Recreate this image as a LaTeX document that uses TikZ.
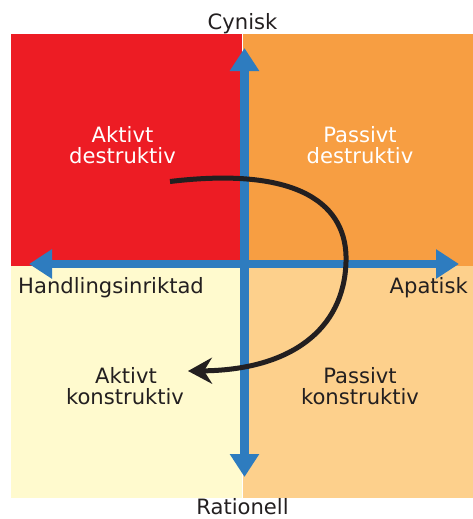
\documentclass[tikz,border=0pt]{standalone}
\usepackage{fontspec}
\setmainfont{DejaVu Sans}
\usetikzlibrary{arrows.meta}
\definecolor{qred}{RGB}{237,28,36}
\definecolor{qorange}{RGB}{247,158,66}
\definecolor{qpale}{RGB}{255,250,206}
\definecolor{qpeach}{RGB}{253,208,140}
\definecolor{axisblue}{RGB}{46,124,191}
\definecolor{ink}{RGB}{35,31,32}
\tikzset{
  quad/.style={draw=none, inner sep=0pt, anchor=north west,
    minimum width=231pt, minimum height=232pt},
  lbl/.style={anchor=base, inner sep=0pt, font=\fontsize{21.1pt}{21pt}\selectfont},
  axis/.style={draw=axisblue, line width=8.5pt,
    {Triangle[length=23pt,width=28pt]}-{Triangle[length=23pt,width=28pt]}},
  flow/.style={draw=ink, line width=5pt,
    -{Stealth[length=24pt,width=26pt,inset=8pt]}}
}
\begin{document}
\begin{tikzpicture}[x=1pt,y=-1pt]
  \useasboundingbox (0,0) rectangle (473,519);
  % four quadrants
  \node[quad, fill=qred]    (ad) at (11,34)   {};
  \node[quad, fill=qorange, minimum width=230pt] (pd) at (243,34)  {};
  \node[quad, fill=qpale, minimum height=232pt]   (ak) at (11,266)  {};
  \node[quad, fill=qpeach, minimum width=230pt, minimum height=232pt] (pk) at (243,266) {};

  % axes
  \coordinate (top)    at (244.5,48);
  \coordinate (bottom) at (244.5,477);
  \coordinate (left)   at (29,264);
  \coordinate (right)  at (459,264);
  \draw[axis] (bottom) -- (top);
  \draw[axis] (left) -- (right);

  % axis labels
  \node[lbl, text=ink] (cyn) at (242.5,30) {Cynisk};
  \node[lbl, text=ink] (rat) at (242.5,514) {Rationell};
  \node[lbl, text=ink, anchor=base west] (han) at (18,293) {Handlingsinriktad};
  \node[lbl, text=ink, anchor=base east] (apa) at (468,293) {Apatisk};

  % quadrant labels
  \node[lbl, text=white] (ad1) at (122.5,142) {Aktivt};
  \node[lbl, text=white] (ad2) at (122.5,163) {destruktiv};
  \node[lbl, text=white] (pd1) at (360,142) {Passivt};
  \node[lbl, text=white] (pd2) at (360,163) {destruktiv};
  \node[lbl, text=ink] (ak1) at (126,383) {Aktivt};
  \node[lbl, text=ink] (ak2) at (125,404) {konstruktiv};
  \node[lbl, text=ink] (pk1) at (360,383) {Passivt};
  \node[lbl, text=ink] (pk2) at (360,404) {konstruktiv};

  % curved arrow from active-destructive to active-constructive
  \coordinate (cstart) at (170,181.5);
  \coordinate (cmid)   at (346,262);
  \coordinate (cend)   at (188,371);
  \draw[flow] (cstart) .. controls (300,166) and (348,205) .. (cmid)
              .. controls (344,330) and (290,370) .. (cend);
\end{tikzpicture}
\end{document}
